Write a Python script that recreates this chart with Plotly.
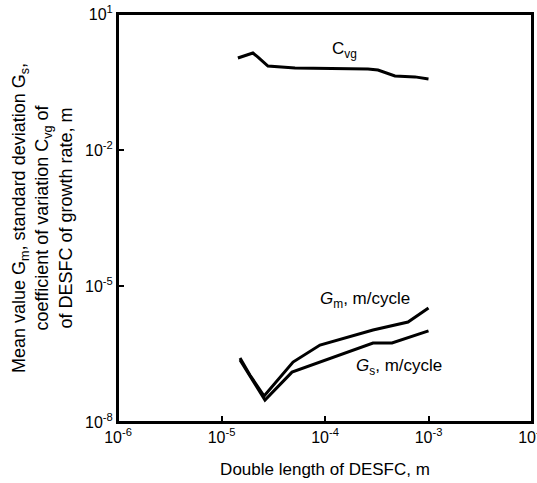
import plotly.graph_objects as go

# Coefficient of variation C_vg of DESFC growth rate
cvg_len = [1.44e-5, 2.01e-5, 2.25e-5, 2.81e-5, 5.13e-5, 2.60e-4, 3.25e-4, 4.74e-4, 7.41e-4, 1.0e-3]
cvg_val = [1.07, 1.38, 1.12, 0.71, 0.64, 0.61, 0.58, 0.43, 0.41, 0.37]

# Mean value G_m, m/cycle
gm_len = [1.51e-5, 1.88e-5, 2.58e-5, 3.29e-5, 4.91e-5, 8.95e-5, 2.91e-4, 6.34e-4, 1.0e-3]
gm_val = [2.58e-7, 1.09e-7, 3.74e-8, 7.2e-8, 2.10e-7, 4.99e-7, 1.07e-6, 1.60e-6, 3.27e-6]

# Standard deviation G_s, m/cycle
gs_len = [1.51e-5, 1.95e-5, 2.63e-5, 4.80e-5, 8.95e-5, 2.91e-4, 4.44e-4, 1.0e-3]
gs_val = [2.33e-7, 9.0e-8, 3.05e-8, 1.26e-7, 2.10e-7, 5.52e-7, 5.52e-7, 1.02e-6]

x_ticks = [1e-6, 1e-5, 1e-4, 1e-3, 1e-2]
x_tick_text = ["10<sup>-6</sup>", "10<sup>-5</sup>", "10<sup>-4</sup>", "10<sup>-3</sup>", "10<sup>-2</sup>"]
y_ticks = [1e-8, 1e-5, 1e-2, 1e1]
y_tick_text = ["10<sup>-8</sup>", "10<sup>-5</sup>", "10<sup>-2</sup>", "10<sup>1</sup>"]

FONT = "Liberation Sans, Arial, sans-serif"

fig = go.Figure()
for xs, ys in [(cvg_len, cvg_val), (gm_len, gm_val), (gs_len, gs_val)]:
    fig.add_trace(go.Scatter(x=xs, y=ys, mode="lines",
                             line=dict(color="black", width=3),
                             showlegend=False, hoverinfo="skip"))

axis_common = dict(
    type="log", showline=True, linewidth=2, linecolor="black", mirror=True,
    ticks="inside", ticklen=6, tickwidth=1.5, tickcolor="black",
    showgrid=False, zeroline=False, ticklabeloverflow="allow", automargin=False,
    tickfont=dict(family=FONT, size=16, color="black"),
)

fig.update_layout(
    width=537, height=483,
    margin=dict(l=118, r=5, t=14, b=61, autoexpand=False),
    paper_bgcolor="white", plot_bgcolor="white",
    font=dict(family=FONT, color="black"),
    xaxis=dict(axis_common, range=[-6, -2], tickvals=x_ticks, ticktext=x_tick_text,
               title=dict(text="Double length of DESFC, m",
                          font=dict(family=FONT, size=17), standoff=18)),
    yaxis=dict(axis_common, range=[-8, 1], tickvals=y_ticks, ticktext=y_tick_text,
               title=dict(text="Mean value G<sub>m</sub>, standard deviation G<sub>s</sub>,<br>"
                               "coefficient of variation C<sub>vg</sub> of<br>"
                               "of DESFC of growth rate, m",
                          font=dict(family=FONT, size=18), standoff=8)),
)

# frame around the plotting area
fig.add_shape(type="rect", xref="paper", yref="paper", x0=0, y0=0, x1=1, y1=1,
              line=dict(color="black", width=2), layer="above")

labels = [
    ("C<sub>vg</sub>", -3.807, 0.206),
    ("<i>G</i><sub>m</sub>, m/cycle", -3.614, -5.309),
    ("<i>G</i><sub>s</sub>, m/cycle", -3.285, -6.787),
]
for text, lx, ly in labels:
    fig.add_annotation(x=lx, y=ly, xref="x", yref="y", text=text, showarrow=False,
                       font=dict(family=FONT, size=17, color="black"))

fig.write_html("out.html")
